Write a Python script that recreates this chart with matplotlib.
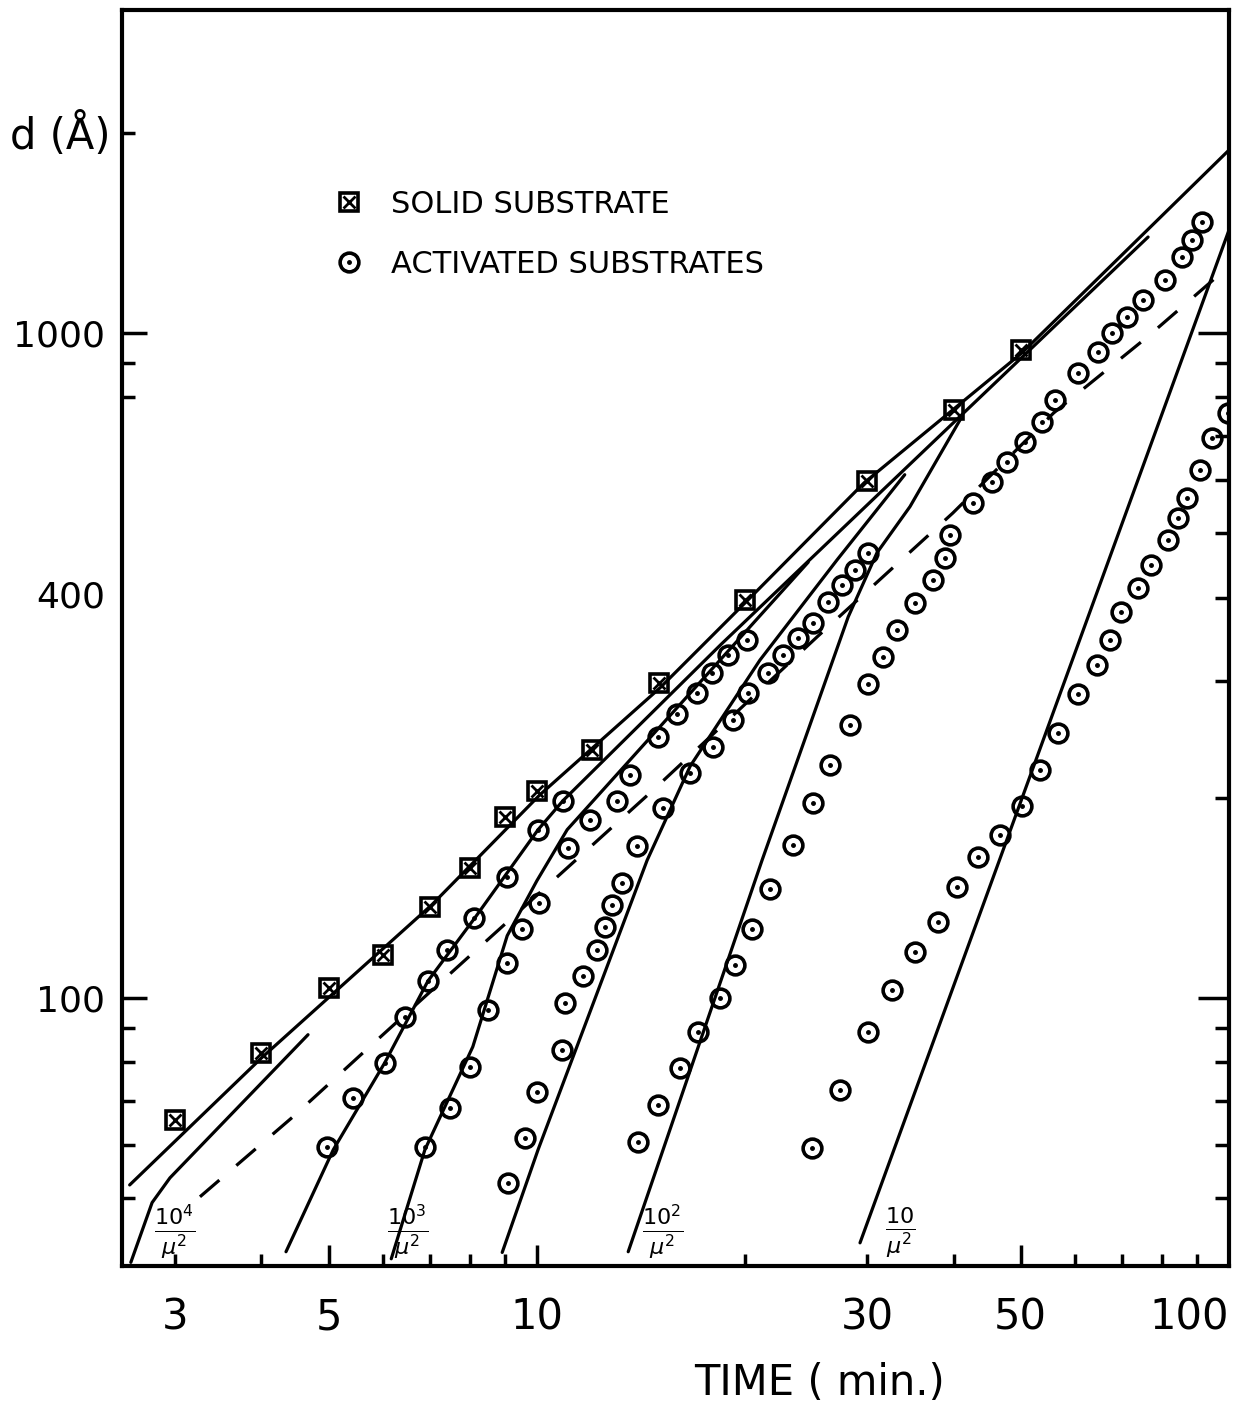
import matplotlib
matplotlib.use("Agg")
import matplotlib.pyplot as plt
from matplotlib.lines import Line2D
from matplotlib.ticker import FixedLocator, FixedFormatter, NullFormatter

# solid substrate (squares)
solid_t = [3, 4, 5, 6, 7, 8, 9, 10, 12, 15, 20, 30, 40, 50]
solid_d = [65.5, 82.7, 103.5, 116, 137, 157, 187, 205, 236, 297, 396, 599, 766, 942]

# activated substrates (circles), one list per sample
act1_t = [4.97, 5.42, 6.03, 6.45, 6.96, 7.42, 8.12, 9.06, 10.04, 10.91]
act1_d = [59.7, 70.7, 79.9, 93.6, 106, 118, 132, 152, 179, 198]
act2_t = [6.89, 7.49, 8.01, 8.50, 9.06, 9.52, 10.07, 11.09, 11.93, 13.06, 13.64,
          14.97, 15.95, 17.04, 17.91, 18.89, 20.12]
act2_d = [59.7, 68.3, 78.7, 95.9, 113, 127, 139, 168, 185, 198, 216,
          247, 267, 287, 308, 328, 345]
act3_t = [9.08, 9.61, 10.0, 10.88, 10.98, 11.66, 12.22, 12.55, 12.84, 13.28, 13.96,
          15.22, 16.65, 17.97, 19.21, 20.19, 21.58, 22.69, 23.85, 25.07, 26.35,
          27.61, 28.83, 30.10]
act3_d = [52.7, 61.6, 72.2, 83.5, 98.3, 108, 118, 128, 138, 149, 169,
          193, 218, 238, 262, 287, 308, 328, 348, 366, 394,
          418, 440, 467]
act4_t = [14.01, 14.97, 16.11, 17.10, 18.39, 19.34, 20.46, 21.73, 23.46, 25.07,
          26.53, 28.36, 30.10, 31.64, 33.15, 35.2, 37.37, 38.90, 39.55, 42.69,
          45.49, 47.81, 50.75, 53.72, 56.09, 60.56, 64.71, 67.79, 71.28, 75.17,
          80.86, 85.58, 88.48, 91.48]
act4_d = [60.7, 69.0, 78.5, 88.9, 100, 112, 127, 146, 170, 196,
          224, 257, 296, 326, 358, 393, 425, 459, 497, 555,
          597, 640, 686, 735, 793, 871, 936, 1000, 1057, 1121,
          1201, 1301, 1380, 1469]
act5_t = [25.0, 27.4, 30.1, 32.6, 35.2, 38.0, 40.5, 43.4, 46.7, 50.2, 53.4, 56.7,
          60.6, 64.5, 67.4, 69.7, 74.0, 77.1, 81.5, 84.3, 87.1, 90.9, 94.6, 99.7]
act5_d = [59.5, 72.7, 88.9, 102.8, 117, 130, 147, 163, 176, 194, 220, 250,
          286, 317, 345, 380, 414, 448, 488, 527, 565, 622, 695, 758]

# hand drawn curves
line_solid_t = [2.58, 4.0, 7.05, 10.1, 15.06, 20.2, 29.7, 50.2, 100]
line_solid_d = [52.3, 81.2, 138, 202, 292.5, 397, 595, 933, 1884]
line_b_t = [4.34, 5.08, 6.03, 6.96, 8.14, 10.04, 10.91, 18.45, 76.4]
line_b_d = [41.5, 59.1, 79.9, 106, 132, 179, 198, 340, 1394]
line_1e4_t = [2.59, 2.78, 2.95, 4.67]
line_1e4_d = [40.0, 49.2, 53.6, 88.0]
line_1e3_t = [6.16, 6.89, 8.08, 9.06, 10.0, 11.06, 24.66]
line_1e3_d = [40.5, 59.1, 84.4, 124, 150, 179, 452]
line_c_t = [8.91, 10.04, 14.43, 16.65, 21.0, 27.16, 34.0]
line_c_d = [41.4, 59.1, 161, 223, 322, 456, 612]
line_1e2_t = [13.55, 21.15, 28.17, 31.0, 34.6, 40.9]
line_1e2_d = [41.5, 161, 374, 467, 548, 741]
line_10_t = [29.3, 100]
line_10_d = [42.8, 1428]
dash_t = [3.26, 4.44, 5.61, 7.66, 10.7, 14.7, 25.4, 39.9, 55.8, 76.2, 97.8]
dash_d = [50.2, 66.2, 82.7, 111, 152, 205, 349, 536, 758, 986, 1235]

density_labels = [r"$\frac{10^4}{\mu^2}$", r"$\frac{10^3}{\mu^2}$",
                  r"$\frac{10^2}{\mu^2}$", r"$\frac{10}{\mu^2}$"]
density_t = [3.0, 6.5, 15.2, 33.5]

fig = plt.figure(figsize=(12.44, 14.03), dpi=100)
ax = fig.add_axes([122 / 1244, 137 / 1403, 1107 / 1244, 1256 / 1403])
ax.set_xscale("log")
ax.set_yscale("log")
ax.set_xlim(2.515, 100)
ax.set_ylim(39.5, 3060)

lw = 2.3
for t, d in [(line_solid_t, line_solid_d), (line_b_t, line_b_d),
             (line_1e4_t, line_1e4_d), (line_1e3_t, line_1e3_d),
             (line_c_t, line_c_d), (line_1e2_t, line_1e2_d),
             (line_10_t, line_10_d)]:
    ax.plot(t, d, color="black", lw=lw, solid_capstyle="round")
ax.plot(dash_t, dash_d, color="black", lw=lw, dashes=(8, 7))

# squares with a cross
ax.plot(solid_t, solid_d, ls="none", marker="s", ms=13, mfc="none",
        mec="black", mew=2.6)
ax.plot(solid_t, solid_d, ls="none", marker="x", ms=9, mec="black", mew=2)

for t, d in [(act1_t, act1_d), (act2_t, act2_d), (act3_t, act3_d),
             (act4_t, act4_d), (act5_t, act5_d)]:
    ax.plot(t, d, ls="none", marker="o", ms=13.5, mfc="none", mec="black", mew=2.6)
    ax.plot(t, d, ls="none", marker="o", ms=2.5, mfc="black", mec="black")

for lab, t in zip(density_labels, density_t):
    ax.text(t, 0.027, lab, transform=ax.get_xaxis_transform(), fontsize=23,
            ha="center", va="center")

# axes frame and ticks
for s in ax.spines.values():
    s.set_linewidth(3)

ax.xaxis.set_major_locator(FixedLocator([5, 10, 50]))
ax.xaxis.set_major_formatter(FixedFormatter(["5", "10", "50"]))
ax.xaxis.set_minor_locator(FixedLocator([3, 4, 6, 7, 8, 9, 20, 30, 40, 60, 70, 80, 90]))
ax.xaxis.set_minor_formatter(FixedFormatter(["3", "", "", "", "", "", "", "30",
                                             "", "", "", "", ""]))
ax.yaxis.set_major_locator(FixedLocator([100, 1000]))
ax.yaxis.set_major_formatter(FixedFormatter(["100", "1000"]))
ax.yaxis.set_minor_locator(FixedLocator([50, 60, 70, 80, 90, 800, 900, 2000]))
ax.yaxis.set_minor_formatter(NullFormatter())

ax.tick_params(axis="x", which="major", direction="in", length=15, width=2.5,
               labelsize=30, pad=22)
ax.tick_params(axis="x", which="minor", direction="in", length=9, width=2.5,
               labelsize=30, pad=22)
ax.tick_params(axis="y", which="major", direction="in", length=18, width=2.5,
               labelsize=26, pad=12)
ax.tick_params(axis="y", which="minor", direction="in", length=9, width=2.5)

# right side ticks
ax2 = ax.twinx()
ax2.set_yscale("log")
ax2.set_ylim(39.5, 3060)
ax2.yaxis.set_major_locator(FixedLocator([100, 1000]))
ax2.yaxis.set_minor_locator(FixedLocator([50, 60, 70, 80, 90, 200, 300, 400,
                                          500, 600, 700, 800, 900]))
ax2.yaxis.set_major_formatter(NullFormatter())
ax2.yaxis.set_minor_formatter(NullFormatter())
ax2.tick_params(axis="y", which="major", direction="in", length=22, width=2.5)
ax2.tick_params(axis="y", which="minor", direction="in", length=10, width=2.5)
for s in ax2.spines.values():
    s.set_visible(False)

# labels that sit off the regular tick positions
ax.text(-0.0155, 400, "400", transform=ax.get_yaxis_transform(), fontsize=26,
        ha="right", va="center")
ax.text(100, -0.041, "100", transform=ax.get_xaxis_transform(), fontsize=30,
        ha="right", va="center")

fig.text(60 / 1244, 1 - 135 / 1403, "d (Å)", fontsize=30, ha="center", va="center")
fig.text(820 / 1244, 1 - 1383 / 1403, "TIME ( min.)", fontsize=30, ha="center",
         va="center")

handles = [(Line2D([], [], ls="none", marker="s", ms=13, mfc="none", mec="black", mew=2.6),
            Line2D([], [], ls="none", marker="x", ms=9, mec="black", mew=2)),
           (Line2D([], [], ls="none", marker="o", ms=13.5, mfc="none", mec="black", mew=2.6),
            Line2D([], [], ls="none", marker="o", ms=2.5, mfc="black", mec="black"))]
ax.legend(handles, ["SOLID SUBSTRATE", "ACTIVATED SUBSTRATES"], loc="upper left",
          bbox_to_anchor=(334 / 1244, 1 - 190 / 1403), bbox_transform=fig.transFigure,
          frameon=False, fontsize=22, handlelength=1.0, handletextpad=0.85,
          labelspacing=1.0, borderpad=0, borderaxespad=0)

fig.savefig("out.png", dpi=100)
